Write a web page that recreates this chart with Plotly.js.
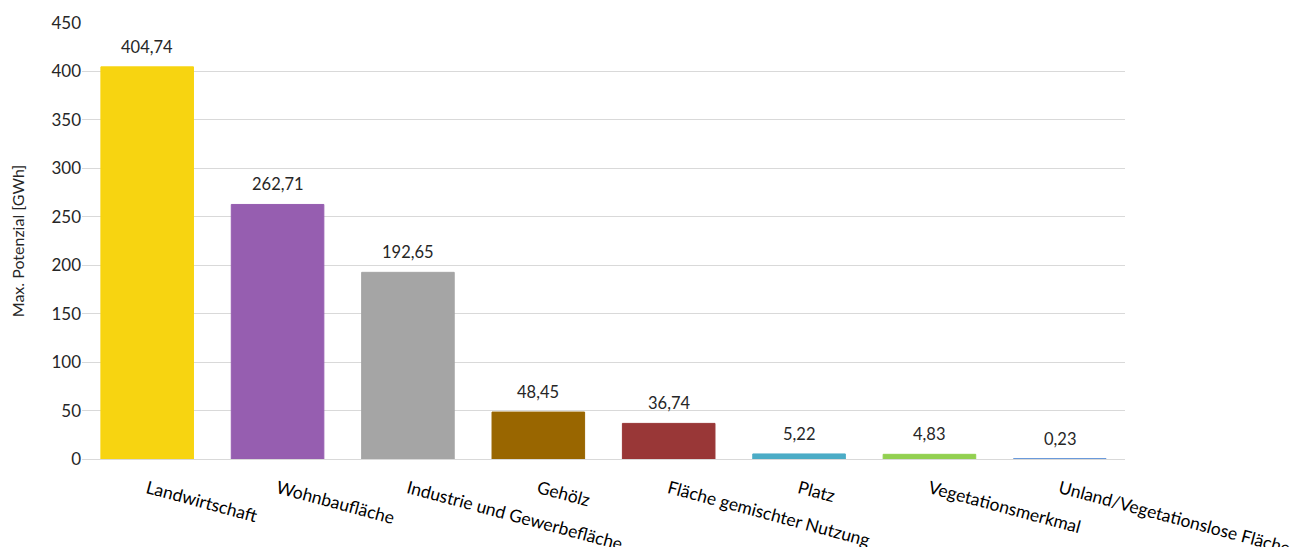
<!DOCTYPE html>
<html>
<head>
<meta charset="utf-8">
<script src="https://cdn.plot.ly/plotly-3.0.1.min.js"></script>
<style>html,body{margin:0;padding:0;background:#fff;}#chart{width:1309px;height:547px;}</style>
</head>
<body>
<div id="chart"></div>
<script>
const categories = ["Landwirtschaft", "Wohnbaufläche", "Industrie und Gewerbefläche", "Gehölz", "Fläche gemischter Nutzung", "Platz", "Vegetationsmerkmal", "Unland/Vegetationslose Fläche"];
const values = [404.74, 262.71, 192.65, 48.45, 36.74, 5.22, 4.83, 0.23];
const colors = ["#F7D411", "#965EB0", "#A5A5A5", "#996600", "#993737", "#4BACC6", "#92D050", "#5B8ED6"];
const yTicks = [0, 50, 100, 150, 200, 250, 300, 350, 400, 450];

const FONT = "Lato, 'Open Sans', sans-serif";

const trace = {
  type: "bar",
  x: categories,
  y: values,
  marker: {color: colors, line: {color: colors, width: 1}},
  width: 0.71,
  cliponaxis: false,
  hoverinfo: "x+y"
};

const annotations = categories.map((c, i) => ({
  x: c,
  y: values[i],
  xref: "x",
  yref: "y",
  text: values[i].toFixed(2).replace(".", ","),
  showarrow: false,
  yanchor: "bottom",
  yshift: 8,
  font: {family: FONT, size: 16.5, color: "#262626"}
}));

const layout = {
  width: 1309,
  height: 547,
  margin: {l: 82, r: 184, t: 23, b: 88},
  separators: ",.",
  paper_bgcolor: "#fff",
  plot_bgcolor: "#fff",
  showlegend: false,
  font: {family: FONT, color: "#262626"},
  annotations: annotations,
  xaxis: {
    type: "category",
    tickangle: 15,
    tickfont: {size: 17.5, color: "#000"},
    showgrid: false,
    showline: false,
    ticks: "outside",
    ticklen: 12,
    tickcolor: "rgba(0,0,0,0)",
    automargin: false
  },
  yaxis: {
    range: [0, 450],
    tickvals: yTicks,
    tickfont: {size: 17, color: "#262626"},
    gridcolor: "#D9D9D9",
    gridwidth: 1,
    zeroline: true,
    zerolinecolor: "#D9D9D9",
    zerolinewidth: 1,
    showline: false,
    ticks: "",
    ticklen: 0,
    automargin: true,
    title: {text: "Max. Potenzial [GWh]", font: {size: 16, color: "#262626"}, standoff: 22}
  },
  bargap: 0.29
};

Plotly.newPlot("chart", [trace], layout, {displayModeBar: false, staticPlot: true});
</script>
</body>
</html>
